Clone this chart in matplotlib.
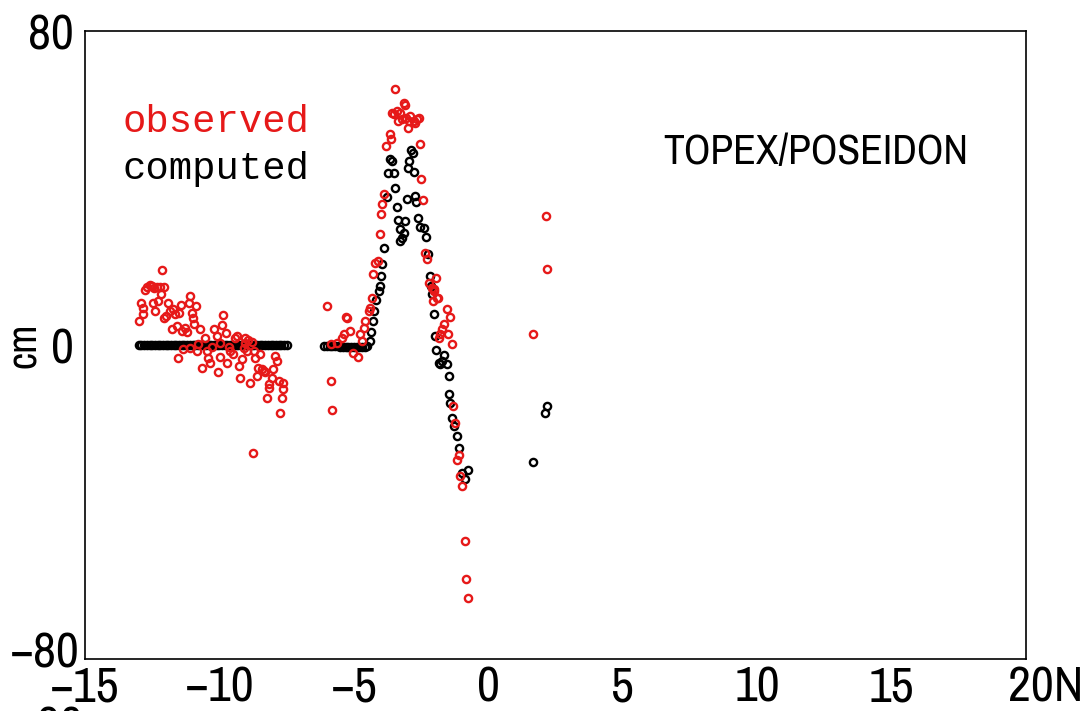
import matplotlib
matplotlib.use("Agg")
import matplotlib.pyplot as plt
from matplotlib.transforms import ScaledTranslation

# observed sea level anomaly (cm) along the track, latitude in degrees
obs_lat = [-12.98, -12.93, -12.85, -12.83, -12.77, -12.70, -12.60, -12.52, -12.42, -12.33,
           -12.21, -12.06, -12.12, -12.46, -12.39, -12.27, -12.18, -11.90, -11.84, -11.98,
           -12.06, -11.71, -11.65, -11.49, -11.44, -11.77, -11.59, -11.40, -11.28, -11.22,
           -11.09, -11.15, -11.03, -10.97, -10.87, -10.94, -10.74, -11.53, -11.36, -10.84,
           -10.66, -10.53, -10.47, -10.41, -10.35, -10.22, -10.10, -10.04, -9.97, -9.91,
           -9.85, -9.75, -9.70, -9.60, -9.50, -9.41, -9.35, -9.29, -9.23, -9.17,
           -9.10, -9.04, -8.98, -8.92, -8.86, -8.73, -8.67, -8.61, -8.55, -8.48,
           -8.42, -8.36, -8.30, -8.24, -8.17, -8.14, -8.05, -7.99, -7.93, -7.86,
           -7.80, -7.74, -7.68, -7.64, -7.62, -8.76, -11.10, -10.78, -10.28, -9.98,
           -9.66, -9.05, -8.80,
           -5.99, -5.84, -5.80, -5.85, -5.63, -5.44, -5.38, -5.30, -5.25, -5.16,
           -5.02, -4.84, -4.70, -4.76, -4.64, -4.58, -4.45, -4.39, -4.33, -4.27,
           -4.20, -4.12, -4.04, -3.98, -3.96, -3.89, -3.79, -3.67, -3.62, -3.58,
           -3.52, -3.46, -3.40, -3.34, -3.27, -3.21, -3.15, -3.09, -3.05, -3.00,
           -2.96, -2.90, -2.78, -2.71, -2.65, -2.59, -2.55, -2.50, -2.43, -2.34,
           -2.28, -2.22, -2.09, -2.01, -1.93, -1.91, -2.06, -2.03, -1.88, -1.54,
           -1.41, -1.63, -1.72, -1.78, -1.48, -1.35, -1.85, -1.31, -1.22, -1.16,
           -1.10, -1.04, -0.98, -0.85, -0.83, -0.77,
           1.65, 2.19, 2.13]
obs_cm = [6.1, 10.8, 7.8, 9.5, 13.9, 14.8, 15.2, 15.0, 14.6, 14.8,
          14.8, 14.9, 19.0, 10.8, 8.7, 11.2, 13.1, 10.8, 8.7, 7.4,
          7.0, 9.1, 7.8, 8.2, 10.1, 4.2, 4.9, 3.6, 4.4, 3.4,
          12.5, 10.8, 8.2, 7.0, 9.9, 5.3, 4.2, -3.2, -1.1, -1.5,
          -5.9, 1.7, -1.5, -3.2, -4.5, 4.2, 2.3, -6.8, -3.1, 5.1,
          7.6, 3.1, -4.5, -1.5, -2.4, 1.9, 2.3, -5.3, -8.5, -3.6,
          -0.7, 1.7, -1.5, 1.4, -9.6, -1.5, -3.2, -7.9, -5.8, -2.4,
          -6.2, -6.6, -7.0, -13.4, -10.9, -10.0, -8.3, -6.2, -2.8, -4.1,
          -9.2, -17.2, -13.4, -11.3, -9.6, -27.4, -0.8, 0.3, -0.6, 0.5,
          -0.4, 0.6, 0.8,
          9.9, -9.2, -16.6, 0.2, 0.6, 1.9, 2.7, 7.2, 7.0, 3.6,
          -2.0, -3.1, 1.0, 2.7, 4.4, 6.1, 8.7, 9.3, 12.1, 18.2,
          21.0, 21.4, 28.4, 33.5, 35.8, 38.5, 50.7, 53.7, 52.4, 59.2,
          58.8, 65.1, 59.6, 57.1, 59.2, 57.5, 61.7, 61.1, 57.9, 55.4,
          57.1, 58.3, 57.1, 56.6, 57.5, 57.9, 51.1, 42.2, 36.9, 23.5,
          21.8, 15.9, 14.6, 13.7, 17.0, 12.1, 11.2, 14.2, 12.1, 9.1,
          7.1, 5.4, 4.0, 2.7, 2.7, 0.2, 1.9, -15.5, -19.8, -29.4,
          -28.0, -33.4, -35.9, -49.9, -59.7, -64.5,
          2.7, 19.4, 32.9]

# computed (model) values
comp_lat = [-13.0, -12.9, -12.8, -12.7, -12.6, -12.5, -12.4, -12.3, -12.2, -12.1,
            -12.0, -11.9, -11.8, -11.7, -11.6, -11.5, -11.4, -11.3, -11.2, -11.1,
            -11.0, -10.9, -10.8, -10.7, -10.6, -10.5, -10.4, -10.3, -10.2, -10.1,
            -10.0, -9.9, -9.8, -9.7, -9.6, -9.5, -9.4, -9.3, -9.2, -9.1,
            -9.0, -8.9, -8.8, -8.7, -8.6, -8.5, -8.4, -8.3, -8.2, -8.1,
            -8.0, -7.9, -7.8, -7.7, -7.6, -7.5,
            -6.1, -6.0, -5.9, -5.8, -5.7, -5.6, -5.5, -5.4, -5.3, -5.2,
            -5.1, -5.0, -4.9, -4.8, -4.7, -4.6, -4.5,
            -4.41, -4.36, -4.29, -4.24, -4.17, -4.08, -4.02, -3.98, -3.96, -3.87,
            -3.77, -3.74, -3.65, -3.58, -3.52, -3.46, -3.40, -3.36, -3.30, -3.27,
            -3.21, -3.15, -3.09, -3.02, -2.99, -2.94, -2.86, -2.80, -2.75, -2.71,
            -2.68, -2.61, -2.55, -2.40, -2.30, -2.24, -2.18, -2.13, -2.09, -2.03,
            -2.00, -1.93, -1.84, -1.78, -1.72, -1.66, -1.53, -1.47, -1.45, -1.41,
            -1.35, -1.29, -1.16, -1.10, -0.98, -0.85, -0.75,
            1.65, 2.10, 2.19]
comp_cm = [0.0, 0.0, 0.0, 0.0, 0.0, 0.0, 0.0, 0.0, 0.0, 0.0,
           0.0, 0.0, 0.0, 0.0, 0.0, 0.0, 0.0, 0.0, 0.0, 0.0,
           0.0, 0.0, 0.0, 0.0, 0.0, 0.0, 0.0, 0.0, 0.0, 0.0,
           0.0, 0.0, 0.0, 0.0, 0.0, 0.0, 0.0, 0.0, 0.0, 0.0,
           0.0, 0.0, 0.0, 0.0, 0.0, 0.0, 0.0, 0.0, 0.0, 0.0,
           0.0, 0.0, 0.0, 0.0, 0.0, 0.0,
           -0.2, -0.2, -0.3, -0.3, -0.3, -0.3, -0.4, -0.4, -0.4, -0.4,
           -0.5, -0.5, -0.5, -0.5, -0.5, -0.4, -0.3,
           1.0, 3.4, 6.0, 8.7, 11.4, 13.8, 15.0, 17.6, 20.7, 24.8,
           37.7, 43.9, 47.3, 46.9, 43.9, 40.1, 35.2, 31.8, 29.5, 26.5,
           27.3, 28.6, 31.6, 37.1, 45.0, 47.0, 49.6, 49.0, 44.2, 37.9,
           36.5, 32.4, 30.1, 29.9, 27.6, 23.1, 17.6, 15.0, 12.9, 7.8,
           2.3, -1.4, -4.5, -4.9, -4.1, -2.5, -4.9, -7.9, -12.4, -14.7,
           -18.5, -20.6, -23.2, -26.3, -32.5, -34.2, -31.9,
           -29.7, -17.2, -15.5]

xticks = [-15, -10, -5, 0, 5, 10, 15, 20]
xlabels = ["−15", "−10", "−5", "0", "5", "10", "15", "20N"]
yticks = [-80, 0, 80]
ylabels = ["−80", "0", "80"]

RED = "#e61919"
# narrow gothic look of the original
narrow = dict(family=["Archivo Narrow", "DejaVu Sans"], stretch="condensed")
mono = dict(family=["Liberation Mono", "DejaVu Sans Mono"])

fig = plt.figure(figsize=(10.86, 7.11), dpi=100)
ax = fig.add_axes([85 / 1086, 1 - 659 / 711, 941 / 1086, 628 / 711])

ax.plot(comp_lat, comp_cm, ls="none", marker="o", ms=5.2, mfc="none", mec="black", mew=1.7)
ax.plot(obs_lat, obs_cm, ls="none", marker="o", ms=5.2, mfc="none", mec=RED, mew=1.7)

ax.set_xlim(-15, 20)
ax.set_ylim(-80, 80)
for s in ax.spines.values():
    s.set_linewidth(1.2)

ax.set_xticks(xticks)
ax.set_xticklabels(xlabels, fontsize=36, **narrow)
ax.set_yticks(yticks)
ax.set_yticklabels(ylabels, fontsize=36, **narrow)
ax.tick_params(which="major", length=0)
ax.tick_params(axis="x", which="major", pad=5)
ax.tick_params(axis="y", which="major", pad=8)

ax.set_xticks([0], minor=True)
ax.set_yticks([0], minor=True)
ax.tick_params(axis="x", which="minor", direction="in", length=14, width=1.2, labelbottom=False)
ax.tick_params(axis="y", which="minor", direction="in", length=18.5, width=1.2,
               left=True, right=True, labelleft=False)

# nudge the -80 and 20N labels like in the original
lab = ax.get_yticklabels()[0]
lab.set_transform(lab.get_transform() + ScaledTranslation(0.06, 0.1, fig.dpi_scale_trans))
lab = ax.get_xticklabels()[-1]
lab.set_transform(lab.get_transform() + ScaledTranslation(0.2, 0, fig.dpi_scale_trans))

fig.text(24 / 1086, 1 - 345 / 711, "cm", rotation=90, ha="center", va="center",
         fontsize=30, **narrow)

ax.text(0.04, 0.855, "observed", transform=ax.transAxes, color=RED,
        fontsize=28, va="center", ha="left", **mono)
ax.text(0.04, 0.78, "computed", transform=ax.transAxes, color="black",
        fontsize=28, va="center", ha="left", **mono)
ax.text(0.615, 0.807, "TOPEX/POSEIDON", transform=ax.transAxes, color="black",
        fontsize=30, va="center", ha="left", **narrow)

# top of the next panel's label, cut off by the figure edge
fig.text(14 / 1086, 1 - 706 / 711, "−80", fontsize=36, va="top", ha="left", **narrow)

fig.savefig("out.png", dpi=100)
